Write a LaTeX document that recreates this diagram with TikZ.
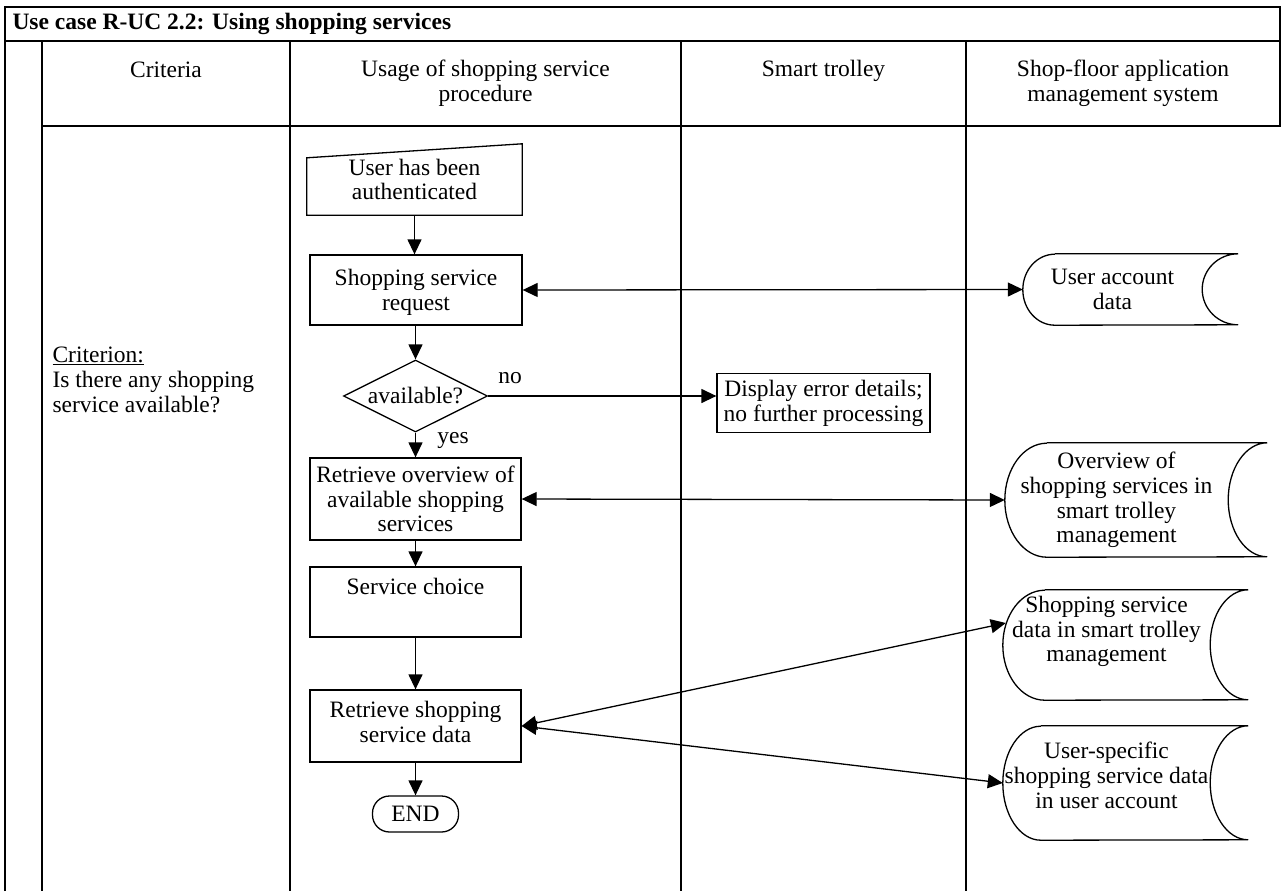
\documentclass[tikz,border=0pt]{standalone}
\usepackage{fontspec}
\setmainfont{Liberation Serif}
\usetikzlibrary{arrows.meta,shapes.geometric}

\newcommand\fsz{\fontsize{23.5}{24.8}\selectfont}
% stored-data outline around a node: #1 name, #2 left bulge, #3 right hollow, #4 half height
\newcommand\storeoutline[4]{%
  \draw[line] ([xshift=#2]#1.north west) -- ([xshift=#3]#1.north east)
    arc[start angle=90,end angle=270,x radius=#3,y radius=#4]
    -- ([xshift=#2]#1.south west)
    arc[start angle=270,end angle=90,x radius=#2,y radius=#4];}

\begin{document}
\begin{tikzpicture}[x=1pt,y=1pt,
  line/.style={line width=1.3pt},
  every node/.style={font=\fsz},
  box/.style={draw, line width=1.3pt, rectangle, inner sep=0pt, align=center},
  store/.style={inner sep=0pt, align=center},
  flow/.style={line width=1.3pt, -{Triangle[length=15pt,width=14pt]}},
  both/.style={line width=1.3pt, {Triangle[length=15pt,width=14pt]}-{Triangle[length=15pt,width=14pt]}}]
\useasboundingbox (0,0) rectangle (1281,-891);

% table frame and swimlanes
\draw[line] (5,-891) -- (5,-7) -- (1280,-7) -- (1280,-126) -- (42,-126);
\draw[line] (5,-41) -- (1280,-41);
\foreach \x in {42,290,681,966} \draw[line] (\x,-41) -- (\x,-891);

\node[anchor=west, font=\fsz\bfseries] (title) at (9,-24) {Use case R-UC 2.2: Using shopping services};

% lane headers
\node (hcrit) at (166,-70) {Criteria};
\node[align=center] (hproc) at (485.5,-83) {Usage of shopping service\\procedure};
\node (htrol) at (823.5,-71) {Smart trolley};
\node[align=center] (hsys) at (1123,-83) {Shop-floor application\\management system};

\node[anchor=west, align=left] (crit) at (49,-380) {\underline{Criterion:}\\Is there any shopping\\service available?};

% procedure steps
\node[inner sep=0pt, minimum width=215, minimum height=71, align=center] (auth) at (414.5,-179.5) {User has been\\authenticated};
\draw[line] (auth.south west) -- (auth.south east) -- (auth.north east) -- ([yshift=-14pt]auth.north west) -- cycle;

\node[box, minimum width=212, minimum height=70, text depth=0pt] (req) at (416,-290) {Shopping service\\request};
\node[draw, line width=1.3pt, diamond, aspect=2, inner sep=0pt, minimum width=144, minimum height=72] (dia) at (415.5,-396) {available?};
\node[box, minimum width=213, minimum height=59] (err) at (823.5,-403) {Display error details;\\no further processing};
\node[box, minimum width=211, minimum height=82] (over) at (415.5,-499) {Retrieve overview of\\available shopping\\services};
\node[box, minimum width=211, minimum height=70, text height=16pt, text depth=32pt] (choice) at (415.5,-602) {Service choice};
\node[box, minimum width=211, minimum height=72, text depth=8pt] (rsd) at (415.5,-726) {Retrieve shopping\\service data};
\node[draw, line width=1.3pt, rounded corners=17pt, inner sep=0pt, minimum width=86, minimum height=36] (end) at (415.5,-814) {END};

\node (no) at (510,-378) {no};
\node (yes) at (453,-440) {yes};

% stored data
\node[store, minimum width=179, minimum height=71] (ua) at (1112.5,-289.5) {User account\\data};
\storeoutline{ua}{32pt}{36pt}{35.5pt}
\node[store, minimum width=223, minimum height=114] (ov) at (1116.5,-500) {Overview of\\shopping services in\\smart trolley\\management};
\storeoutline{ov}{42pt}{39pt}{57pt}
\node[store, minimum width=207, minimum height=110, text depth=32pt] (sd) at (1106.5,-645) {Shopping service\\data in smart trolley\\management};
\storeoutline{sd}{42pt}{38pt}{55pt}
\node[store, minimum width=207, minimum height=114, text depth=15pt] (us) at (1106.5,-783) {User-specific\\shopping service data\\in user account};
\storeoutline{us}{38pt}{38pt}{57pt}
\coordinate (sdin) at ([xshift=3pt,yshift=22pt]sd.west);

% flow
\draw[flow] (auth.south) -- (auth.south |- req.north);
\draw[flow] (dia.north |- req.south) -- (dia.north);
\draw[flow] (dia.south) -- (dia.south |- over.north);
\draw[flow] (dia.east) -- (dia.east -| err.west);
\draw[flow] (over.south) -- (choice.north);
\draw[flow] (choice.south) -- (rsd.north);
\draw[flow] (rsd.south) -- (end.north);

% data exchange
\draw[both] (req.east) -- (ua.west);
\draw[both] (over.east) -- (ov.west);
\draw[both] (rsd.east) -- (sdin);
\draw[both] (rsd.east) -- (us.west);
\end{tikzpicture}
\end{document}
